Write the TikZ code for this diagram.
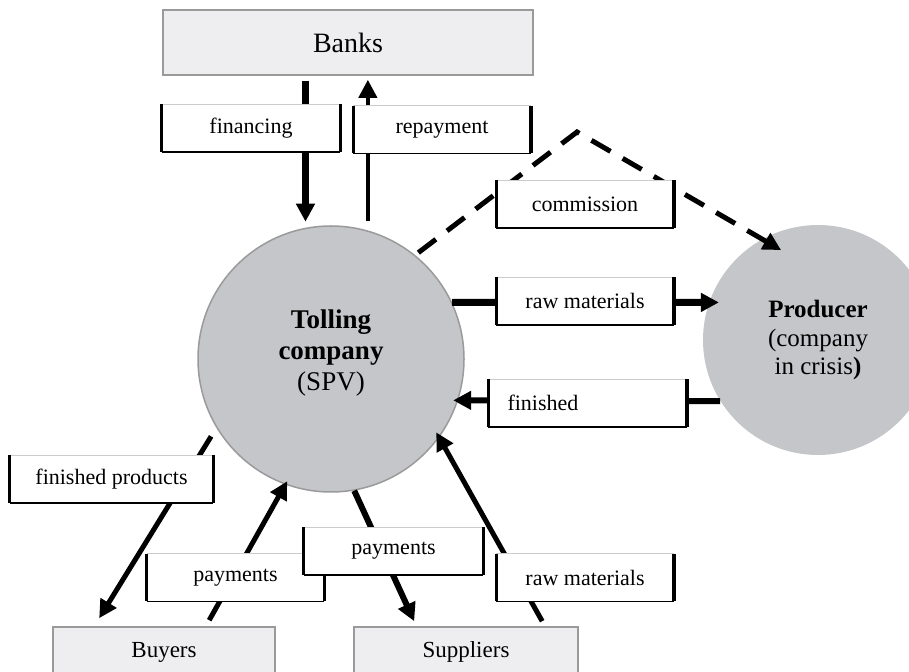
\documentclass[tikz,border=0pt]{standalone}
\usepackage{fontspec}
\setmainfont{Liberation Serif}
\usetikzlibrary{arrows.meta, positioning}

\definecolor{discgray}{HTML}{C5C6C9}
\definecolor{boxgray}{HTML}{EEEEF0}
\definecolor{rimgray}{HTML}{9A9A9A}

\begin{document}
\begin{tikzpicture}[
    x=0.5pt, y=-0.5pt,
    >={Triangle[length=9pt,width=9pt]},
    party/.style={fill=boxgray, draw=rimgray, line width=0.8pt, inner sep=0pt},
    tag/.style={fill=white, inner sep=0pt, minimum width=88.5pt, minimum height=23.5pt,
        font=\fontsize{11}{13}\selectfont,
        append after command={
            (\tikzlastnode.north west) edge[gray!40, line width=0.5pt] (\tikzlastnode.north east)
            (\tikzlastnode.south west) edge[line width=0.8pt] (\tikzlastnode.south east)
            (\tikzlastnode.north west) edge[line width=1.6pt] (\tikzlastnode.south west)
            (\tikzlastnode.north east) edge[line width=1.6pt] (\tikzlastnode.south east)}},
    flow/.style={->, line width=2.5pt},
    disc/.style={circle, fill=discgray, inner sep=0pt, align=center}
]
\useasboundingbox (0,0) rectangle (909,672);
\clip (0,0) rectangle (909,672);

% Parties
\node[party, minimum width=185pt, minimum height=32.5pt,
    font=\fontsize{14}{16}\selectfont] (banks) at (348,42.5) {Banks};
\node[party, minimum width=111pt, minimum height=25pt,
    font=\fontsize{11.5}{13}\selectfont] (buyers) at (164,652) {Buyers};
\node[party, minimum width=112pt, minimum height=25pt,
    font=\fontsize{11.5}{13}\selectfont] (suppliers) at (466,652) {Suppliers};

\node[disc, draw=rimgray, line width=0.75pt, minimum size=133pt] (spv) at (331,359) {};
\node[align=center, font=\fontsize{13.5}{15.5}\selectfont] (spvtext) at (331,353)
    {\textbf{Tolling}\\\textbf{company}\\(SPV)};
\node[disc, minimum size=115pt, font=\fontsize{12.5}{14.25}\selectfont] (prod) at (818,340)
    {\textbf{Producer}\\(company\\in crisis\textbf{)}};

% Flows with the banks
\draw[flow, line width=3.5pt, shorten <=2.5pt, shorten >=3pt] (banks.south -| spv.101) -- (spv.101);
\draw[flow, line width=2pt, shorten <=4.5pt, shorten >=2pt] (spv.74) -- (banks.south -| spv.74);

% Commission (dashed)
\coordinate (apex) at (577,132);
\draw[flow, dash pattern=on 11pt off 7pt, shorten <=2pt, shorten >=-11pt]
    (spv.51) -- (apex) -- (prod.119);

% Flows with the producer
\draw[flow, line width=3.5pt, shorten >=-5pt] (spv.25) -- (prod.161);
\draw[flow, line width=3pt, shorten >=-2.5pt] (prod.212) -- (spv.342);

% Flows with buyers and suppliers
\draw[flow, shorten <=5pt] (spv.211) -- ([xshift=23.5pt,yshift=4pt]buyers.north west);
\draw[flow, shorten >=-2pt] ([xshift=78.5pt,yshift=3pt]buyers.north west) -- (spv.250);
\draw[flow, line width=3pt] (spv.280) -- ([xshift=30.5pt,yshift=2.5pt]suppliers.north west);
\draw[flow, shorten >=-3pt] ([xshift=94.5pt,yshift=2.5pt]suppliers.north west) -- (spv.324);

% Labels
\node[tag, minimum width=89pt] (fin) at (251,128) {financing};
\node[tag] (rep) at (442,129.5) {repayment};
\node[tag] (com) at (585,204) {commission};
\node[tag] (rawtop) at (585,301) {raw materials};
\node[tag, minimum width=0pt, text width=80pt, align=left, inner xsep=9.5pt] (fin2) at (587.5,403) {finished};
\node[tag, minimum width=101.5pt] (fprod) at (111.5,479) {finished products};
\node[tag] (paybuy) at (235.5,577.5) {payments};
\node[tag, minimum width=89.5pt] (paysup) at (393.5,551) {payments};
\node[tag] (rawbot) at (585,577.5) {raw materials};

\end{tikzpicture}
\end{document}
